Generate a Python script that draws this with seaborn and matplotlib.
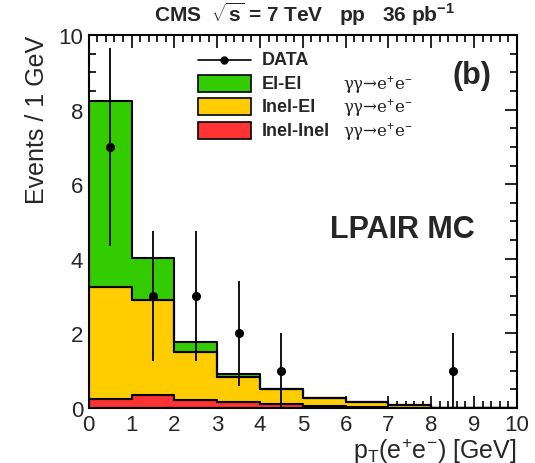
import numpy as np
import pandas as pd
import matplotlib
matplotlib.use("Agg")
import matplotlib.pyplot as plt
import seaborn as sns
from matplotlib.ticker import MultipleLocator
from matplotlib.lines import Line2D
from matplotlib.patches import Rectangle

# Histogram content per 1 GeV bin of pT(e+e-)
bin_edges = [0, 1, 2, 3, 4, 5, 6, 7, 8, 9, 10]
bin_centers = [0.5, 1.5, 2.5, 3.5, 4.5, 5.5, 6.5, 7.5, 8.5, 9.5]
el_el = [4.97, 1.12, 0.27, 0.09, 0.01, 0.0, 0.0, 0.01, 0.0, 0.0]
inel_el = [3.00, 2.54, 1.27, 0.67, 0.38, 0.21, 0.13, 0.06, 0.0, 0.0]
inel_inel = [0.25, 0.36, 0.22, 0.15, 0.12, 0.06, 0.02, 0.01, 0.0, 0.0]

# Observed events
data_x = [0.5, 1.5, 2.5, 3.5, 4.5, 8.5]
data_n = [7, 3, 3, 2, 1, 1]

components = ["El-El", "Inel-El", "Inel-Inel"]
colors = {"El-El": "#33cc00", "Inel-El": "#ffcc00", "Inel-Inel": "#ff3333"}

sns.set_theme(style="white")
plt.rcParams["font.family"] = ["Liberation Sans", "DejaVu Sans"]
plt.rcParams["mathtext.fontset"] = "custom"
plt.rcParams["mathtext.rm"] = "Liberation Sans"
plt.rcParams["mathtext.bf"] = "Liberation Sans:bold"
plt.rcParams["mathtext.it"] = "Liberation Sans:italic"

mc = pd.DataFrame({
    "pt": bin_centers * 3,
    "weight": el_el + inel_el + inel_inel,
    "process": [c for c in components for _ in bin_centers],
})

fig = plt.figure(figsize=(5.35, 4.64), dpi=100)
ax = fig.add_axes([0.166, 0.1185, 0.800, 0.804])

sns.histplot(
    data=mc, x="pt", weights="weight", hue="process", hue_order=components,
    bins=bin_edges, multiple="stack", element="step", palette=colors,
    alpha=1.0, edgecolor="black", linewidth=1.5, legend=False, ax=ax,
)

yerr = np.sqrt(data_n)
ax.errorbar(data_x, data_n, yerr=yerr, fmt="o", color="black", markersize=5.5,
            elinewidth=1.3, capsize=0, zorder=5, clip_on=True)

ax.set_xlim(0, 10)
ax.set_ylim(0, 10)
ax.xaxis.set_major_locator(MultipleLocator(1))
ax.xaxis.set_minor_locator(MultipleLocator(0.2))
ax.yaxis.set_major_locator(MultipleLocator(2))
ax.yaxis.set_minor_locator(MultipleLocator(0.5))
ax.tick_params(which="both", direction="in", top=True, right=True,
               bottom=True, left=True, width=1.2, color="black")
ax.tick_params(which="major", length=9, labelsize=16, pad=4)
ax.tick_params(which="minor", length=5)
for s in ax.spines.values():
    s.set_linewidth(1.5)
    s.set_color("black")

ax.set_xlabel(r"p$_{\mathrm{T}}$(e$^{+}$e$^{-}$) [GeV]", fontsize=18, loc="right")
ax.set_ylabel("Events / 1 GeV", fontsize=18, loc="top")
ax.xaxis.set_label_coords(1.0, -0.073)
ax.yaxis.set_label_coords(-0.092, 1.0)

fig.text(0.57, 0.968, r"CMS  $\sqrt{\mathbf{s}}$ = 7 TeV   pp   36 pb$^{\mathbf{-1}}$",
         fontsize=15, fontweight="bold", ha="center", va="center")

# Legend block
tr = ax.transAxes
ax.add_line(Line2D([0.255, 0.379], [0.933, 0.933], color="black", lw=1.2,
                   transform=tr, clip_on=False))
ax.add_line(Line2D([0.317], [0.933], marker="o", markersize=5, color="black",
                   transform=tr, clip_on=False))
ax.text(0.404, 0.933, "DATA", transform=tr, fontsize=13, fontweight="bold", va="center")
rows = [0.869, 0.807, 0.743]
for comp, yy in zip(components, rows):
    ax.add_patch(Rectangle((0.255, yy - 0.0228), 0.124, 0.0456, transform=tr,
                           facecolor=colors[comp], edgecolor="black", lw=1.2,
                           clip_on=False, zorder=6))
    ax.text(0.404, yy, comp, transform=tr, fontsize=13, fontweight="bold", va="center")
    ax.text(0.593, yy, r"γγ→e$^{+}$e$^{-}$", transform=tr, fontsize=12,
            va="center", color="#222222", family=["DejaVu Serif", "DejaVu Sans"])

ax.text(0.895, 0.893, "(b)", transform=tr, fontsize=22, fontweight="bold",
        ha="center", va="center")
ax.text(0.563, 0.48, "LPAIR MC", transform=tr, fontsize=22, fontweight="bold",
        ha="left", va="center")

fig.savefig("out.png", dpi=100)
